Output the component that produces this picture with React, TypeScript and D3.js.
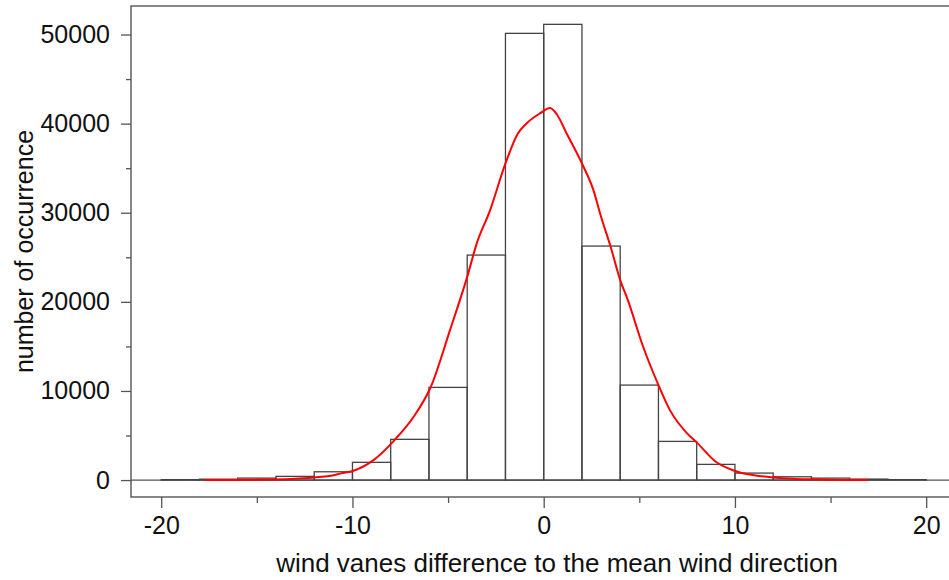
import { useEffect, useRef } from 'react'
import * as d3 from 'd3'

// histogram bins (left edge, width 2)
const binStarts = [-20, -18, -16, -14, -12, -10, -8, -6, -4, -2, 0, 2, 4, 6, 8, 10, 12, 14, 16, 18]
const binCounts = [50, 100, 220, 415, 930, 1990, 4570, 10400, 25250, 50130, 51140, 26260, 10660, 4340, 1760, 785, 370, 220, 110, 50]

// red density curve
const curveX = [-17.7, -16, -14.5, -13, -12, -11.2, -10.6, -9.95, -8.9, -7.8, -6.8, -5.9, -4.9, -4.0, -3.5, -2.8, -2.0, -1.35, -0.9, -0.2, 0.33, 0.7, 1.2, 2.0, 2.6, 3.0, 3.5, 4.0, 4.4, 5.2, 6.0, 6.6, 7.5, 8.0, 9.0, 9.9, 10.3, 11, 12, 13, 14.1, 15.5, 16.95]
const curveY = [0, 20, 60, 150, 300, 450, 750, 1050, 2240, 4490, 7100, 10470, 16830, 22800, 26560, 30300, 35530, 38900, 40020, 41140, 41750, 41000, 38900, 35530, 32540, 29540, 26180, 22440, 20200, 14960, 10660, 7850, 5240, 4230, 2050, 1100, 820, 550, 300, 150, 80, 20, 0]

const xMajor = [-20, -10, 0, 10, 20]
const xMinor = [-15, -5, 5, 15]
const yMajor = [0, 10000, 20000, 30000, 40000, 50000]
const yMinor = [5000, 15000, 25000, 35000, 45000]

const xLabel = 'wind vanes difference to the mean wind direction'
const yLabel = 'number of occurrence'

export default function App() {
  const svgRef = useRef<SVGSVGElement | null>(null)

  useEffect(() => {
    document.body.style.margin = '0'
    const svgElement = svgRef.current
    if (!svgElement) return
    const svg = d3.select(svgElement)
    svg.selectAll('*').remove()

    const font = '"Liberation Sans", Arial, sans-serif'
    const axisColor = '#555'
    const textColor = '#111'
    const plain = (d: d3.NumberValue) => String(d) // keep ASCII hyphen for negatives

    const x = d3.scaleLinear().domain([-21.58, 21.58]).range([131, 956.4])
    const y = d3.scaleLinear().domain([-1900, 53200]).range([497, 6])

    // frame
    svg
      .append('rect')
      .attr('x', x(-21.58))
      .attr('y', y(53200))
      .attr('width', x(21.58) - x(-21.58))
      .attr('height', y(-1900) - y(53200))
      .attr('fill', 'none')
      .attr('stroke', axisColor)
      .attr('stroke-width', 1.4)

    // baseline at zero
    svg
      .append('line')
      .attr('x1', x(-21.58))
      .attr('x2', x(21.58))
      .attr('y1', y(0))
      .attr('y2', y(0))
      .attr('stroke', axisColor)
      .attr('stroke-width', 1.3)

    // bars
    svg
      .append('g')
      .selectAll('rect')
      .data(binStarts.map((s, i) => ({ s, c: binCounts[i] })))
      .join('rect')
      .attr('x', (d) => x(d.s))
      .attr('y', (d) => y(d.c))
      .attr('width', (d) => x(d.s + 2) - x(d.s))
      .attr('height', (d) => y(0) - y(d.c))
      .attr('fill', 'none')
      .attr('stroke', '#444')
      .attr('stroke-width', 1.3)

    // density curve
    const pts = curveX.map((cx, i) => [cx, curveY[i]] as [number, number])
    const line = d3
      .line<[number, number]>()
      .x((d) => x(d[0]))
      .y((d) => y(d[1]))
      .curve(d3.curveMonotoneX)
    svg
      .append('path')
      .datum(pts)
      .attr('d', line)
      .attr('fill', 'none')
      .attr('stroke', '#ff0000')
      .attr('stroke-width', 2)

    // y axis: major and minor ticks in separate groups
    const yMajorG = svg.append('g').attr('transform', `translate(${x(-21.58)},0)`)
    yMajorG.call(d3.axisLeft(y).tickValues(yMajor).tickSize(10).tickPadding(11).tickFormat(plain))
    const yMinorG = svg.append('g').attr('transform', `translate(${x(-21.58)},0)`)
    yMinorG.call(d3.axisLeft(y).tickValues(yMinor).tickSize(5).tickFormat(() => ''))

    // x axis
    const xMajorG = svg.append('g').attr('transform', `translate(0,${y(-1900)})`)
    xMajorG.call(d3.axisBottom(x).tickValues(xMajor).tickSize(11).tickPadding(8).tickFormat(plain))
    const xMinorG = svg.append('g').attr('transform', `translate(0,${y(-1900)})`)
    xMinorG.call(d3.axisBottom(x).tickValues(xMinor).tickSize(6).tickFormat(() => ''))

    for (const g of [yMajorG, yMinorG, xMajorG, xMinorG]) {
      g.selectAll('.domain').remove()
      g.selectAll('line').attr('stroke', axisColor).attr('stroke-width', 1.3)
      g.selectAll('text').attr('font-family', font).attr('font-size', 25).attr('fill', textColor)
    }

    svg
      .append('text')
      .attr('x', 557)
      .attr('y', 572)
      .attr('text-anchor', 'middle')
      .attr('font-family', font)
      .attr('font-size', 26)
      .attr('fill', textColor)
      .text(xLabel)

    svg
      .append('text')
      .attr('transform', `translate(33,${(y(53200) + y(-1900)) / 2}) rotate(-90)`)
      .attr('text-anchor', 'middle')
      .attr('font-family', font)
      .attr('font-size', 25)
      .attr('fill', textColor)
      .text(yLabel)
  }, [])

  return <svg ref={svgRef} width={949} height={580} style={{ display: 'block' }} />
}
